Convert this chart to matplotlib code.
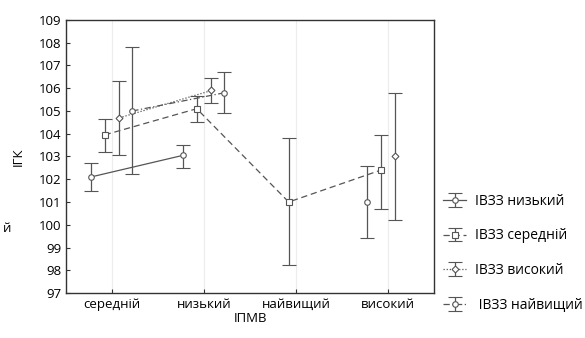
import numpy as np
import matplotlib.pyplot as plt

plt.rcParams['font.family'] = ['Open Sans', 'DejaVu Sans']

categories = ['середній', 'низький', 'найвищий', 'високий']
series_names = ['ІВЗЗ низький', 'ІВЗЗ середній', 'ІВЗЗ високий', ' ІВЗЗ найвищий']

# means, lower and upper bounds of the error bars (nan = no data)
mean_low = [102.1, 103.05, np.nan, 101.0]
lo_low = [101.5, 102.5, np.nan, 99.4]
hi_low = [102.7, 103.5, np.nan, 102.6]

mean_mid = [103.95, 105.1, 101.0, 102.4]
lo_mid = [103.2, 104.5, 98.25, 100.7]
hi_mid = [104.65, 105.65, 103.8, 103.95]

mean_high = [104.7, 105.9, np.nan, 103.0]
lo_high = [103.05, 105.35, np.nan, 100.2]
hi_high = [106.3, 106.45, np.nan, 105.8]

mean_top = [105.0, 105.8, np.nan, np.nan]
lo_top = [102.25, 104.9, np.nan, np.nan]
hi_top = [107.8, 106.7, np.nan, np.nan]

fig = plt.figure(figsize=(5.85, 3.38), dpi=100)
ax = fig.add_axes([0.113, 0.133, 0.629, 0.808])

kol = '#555555'
x = np.arange(len(categories))
sets = [
    (mean_low, lo_low, hi_low, -0.23, '-', 'o'),
    (mean_mid, lo_mid, hi_mid, -0.08, (0, (5, 3)), 's'),
    (mean_high, lo_high, hi_high, 0.08, (0, (1, 1.5)), 'D'),
    (mean_top, lo_top, hi_top, 0.22, (0, (5, 2, 1, 2)), 'o'),
]
handles = []
for (m, lo, hi, dx, ls, mk), name in zip(sets, series_names):
    m = np.array(m); lo = np.array(lo); hi = np.array(hi)
    err = [m - lo, hi - m]
    h = ax.errorbar(x + dx, m, yerr=err, color=kol, ecolor=kol, lw=0.9,
                    elinewidth=0.9, capsize=5, capthick=0.9, marker=mk,
                    ms=4 if mk != 'D' else 3.5, mfc='white', mec=kol, mew=0.8,
                    linestyle=ls, label=name)
    handles.append(h)

ax.set_xlim(-0.5, 3.5)
ax.set_ylim(97, 109)
ax.set_yticks(np.arange(97, 110, 1))
ax.set_xticks(x)
ax.set_xticklabels(categories)
ax.tick_params(direction='in', length=3, labelsize=9.5, color='#333333')
for sp in ax.spines.values():
    sp.set_color('#333333')
    sp.set_linewidth(1.0)
ax.xaxis.grid(True, color='#ececec', lw=0.8)
ax.set_axisbelow(True)

ax.set_xlabel('ІПМВ', fontsize=9.5, labelpad=1)
ax.set_ylabel('ІГК', fontsize=9.5, labelpad=10)

fig.legend(handles=handles, labels=series_names, loc='upper left',
           bbox_to_anchor=(0.758, 0.427), frameon=False, fontsize=10,
           labelspacing=1.42, handlelength=1.6, handletextpad=0.7,
           borderpad=0, borderaxespad=0)

fig.text(0.005, 0.315, 'й', fontsize=9.5)

fig.savefig('out.png', dpi=100)
